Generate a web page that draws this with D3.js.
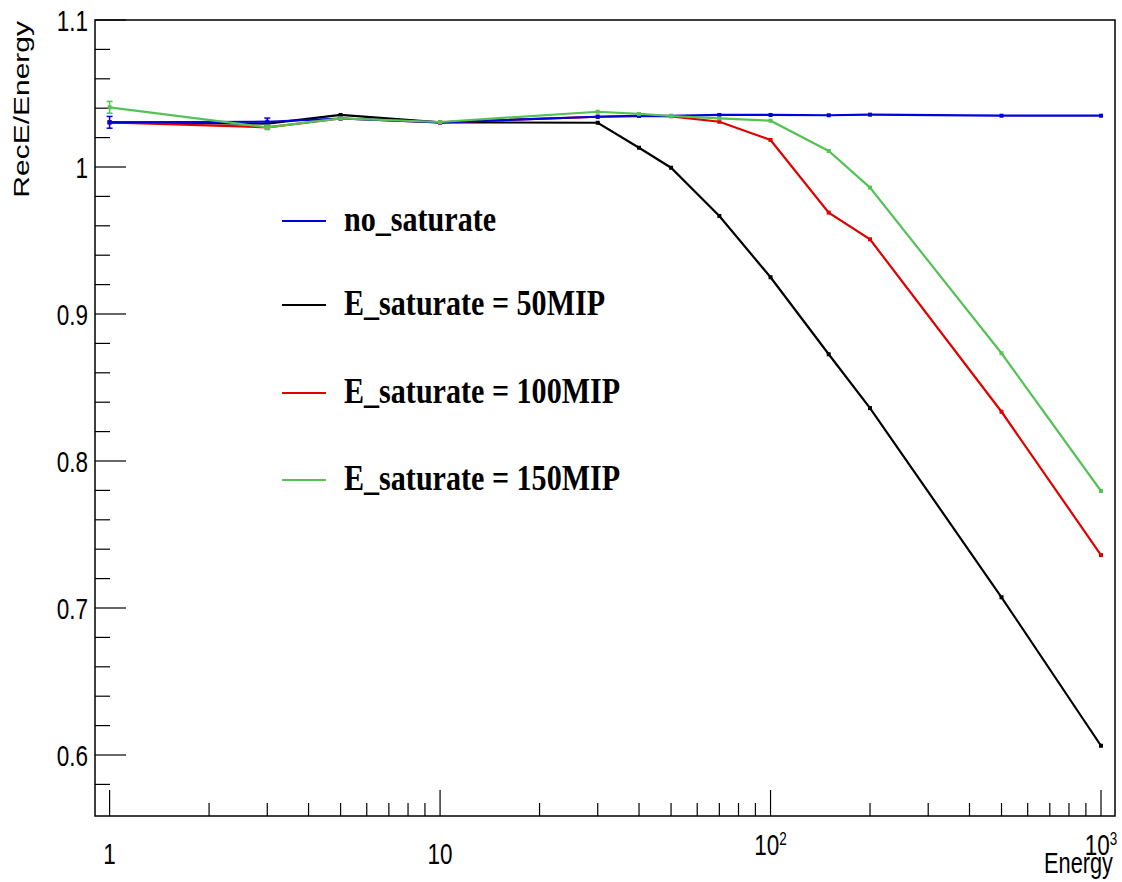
<!DOCTYPE html>
<html>
<head>
<meta charset="utf-8">
<script src="https://cdn.jsdelivr.net/npm/d3@7"></script>
<style>
  html, body { margin: 0; padding: 0; background: #fff; }
  svg { display: block; }
</style>
</head>
<body>
<svg id="chart" width="1122" height="882"></svg>
<script>
// ---- data ----
const energies = [1, 3, 5, 10, 30, 40, 50, 70, 100, 150, 200, 500, 1000];
const noSaturate = [1.0304, 1.0308, 1.0330, 1.0304, 1.0342, 1.0348, 1.0348, 1.0354, 1.0354, 1.0352, 1.0356, 1.0349, 1.0349];
const sat50MIP   = [1.0304, 1.0295, 1.0354, 1.0304, 1.0301, 1.0131, 0.9995, 0.9667, 0.9250, 0.8726, 0.8360, 0.7073, 0.6063];
const sat100MIP  = [1.0304, 1.0270, 1.0330, 1.0304, 1.0342, 1.0348, 1.0345, 1.0308, 1.0184, 0.9690, 0.9508, 0.8335, 0.7360];
const sat150MIP  = [1.0406, 1.0270, 1.0331, 1.0306, 1.0376, 1.0361, 1.0347, 1.0331, 1.0315, 1.0109, 0.9860, 0.8733, 0.7796];
const errNoSat   = [0.0040, 0.0025, 0.0010, 0.0008, 0.0010, 0.0005, 0.0005, 0.0008, 0.0008, 0.0005, 0.0005, 0.0005, 0.0005];
const err50      = [0.0010, 0.0010, 0.0010, 0.0005, 0.0005, 0.0005, 0.0005, 0.0005, 0.0005, 0.0005, 0.0005, 0.0005, 0.0005];
const err100     = [0.0010, 0.0010, 0.0005, 0.0005, 0.0005, 0.0005, 0.0005, 0.0005, 0.0005, 0.0005, 0.0005, 0.0005, 0.0005];
const err150     = [0.0040, 0.0015, 0.0010, 0.0005, 0.0008, 0.0005, 0.0005, 0.0005, 0.0005, 0.0005, 0.0005, 0.0005, 0.0005];
const seriesNames = ["no_saturate", "E_saturate = 50MIP", "E_saturate = 100MIP", "E_saturate = 150MIP"];
const seriesColors = ["#0000dd", "#000000", "#e00000", "#55c255"];
const yTickValues = [0.6, 0.7, 0.8, 0.9, 1.0, 1.1];
const yTickLabels = ["0.6", "0.7", "0.8", "0.9", "1", "1.1"];
const xMajorValues = [1, 10, 100, 1000];
const xMajorLabels = [["1", ""], ["10", ""], ["10", "2"], ["10", "3"]];
const xTitle = "Energy";
const yTitle = "RecE/Energy";

// ---- layout ----
const frame = { left: 95, top: 20, right: 1115, bottom: 816 };
const x = d3.scaleLog().domain([1, 1000]).range([109.6, 1101]);
const y = d3.scaleLinear().domain([0.6, 1.1]).range([755, 20]);
const svg = d3.select("#chart");
const SQ = 0.75; // horizontal squish of the reference glyphs
const sansFont = "'Liberation Sans', Arial, Helvetica, sans-serif";
const serifFont = "'Liberation Serif', 'Times New Roman', serif";

// frame
svg.append("rect")
  .attr("x", frame.left).attr("y", frame.top)
  .attr("width", frame.right - frame.left).attr("height", frame.bottom - frame.top)
  .attr("fill", "none").attr("stroke", "#000").attr("stroke-width", 1.5);

// y ticks (major + minor)
const yMinor = d3.range(0.58, 1.1001, 0.02).map(v => +v.toFixed(2));
svg.append("g").selectAll("line").data(yMinor).join("line")
  .attr("x1", frame.left).attr("x2", d => frame.left + (yTickValues.some(t => Math.abs(t - d) < 1e-6) ? 31 : 15))
  .attr("y1", d => y(d)).attr("y2", d => y(d))
  .attr("stroke", "#000").attr("stroke-width", 1.2);

svg.append("g").selectAll("text").data(yTickValues).join("text")
  .attr("transform", d => `translate(88,${y(d) + 11}) scale(${SQ},1)`)
  .attr("text-anchor", "end")
  .attr("font-family", sansFont).attr("font-size", 30)
  .attr("fill", "#000")
  .text((d, i) => yTickLabels[i]);

// x ticks (major + minor)
const xMinor = [];
[1, 10, 100].forEach(dec => { for (let k = 2; k <= 9; k++) xMinor.push(dec * k); });
svg.append("g").selectAll("line").data(xMinor).join("line")
  .attr("x1", d => x(d)).attr("x2", d => x(d))
  .attr("y1", frame.bottom).attr("y2", frame.bottom - 13)
  .attr("stroke", "#000").attr("stroke-width", 1.2);
svg.append("g").selectAll("line").data(xMajorValues).join("line")
  .attr("x1", d => x(d)).attr("x2", d => x(d))
  .attr("y1", frame.bottom).attr("y2", frame.bottom - 26)
  .attr("stroke", "#000").attr("stroke-width", 1.2);

const xl = svg.append("g").selectAll("text").data(xMajorValues).join("text")
  .attr("transform", (d, i) => `translate(${x(d)},${xMajorLabels[i][1] ? 855 : 864}) scale(${SQ},1)`)
  .attr("text-anchor", "middle")
  .attr("font-family", sansFont).attr("font-size", 30)
  .attr("fill", "#000");
xl.each(function(d, i) {
  const t = d3.select(this);
  t.append("tspan").text(xMajorLabels[i][0]);
  if (xMajorLabels[i][1]) {
    t.append("tspan").attr("dy", -10).attr("font-size", 18).text(xMajorLabels[i][1]);
  }
});

// axis titles
svg.append("text")
  .attr("transform", `translate(1113,873) scale(${SQ},1)`)
  .attr("text-anchor", "end")
  .attr("font-family", sansFont).attr("font-size", 29)
  .text(xTitle);
svg.append("text")
  .attr("transform", `translate(29,21) scale(${SQ},1) rotate(-90)`)
  .attr("text-anchor", "end")
  .attr("font-family", sansFont).attr("font-size", 30)
  .text(yTitle);

// ---- series ----
const allSeries = [
  { name: seriesNames[0], color: seriesColors[0], vals: noSaturate, err: errNoSat },
  { name: seriesNames[1], color: seriesColors[1], vals: sat50MIP, err: err50 },
  { name: seriesNames[2], color: seriesColors[2], vals: sat100MIP, err: err100 },
  { name: seriesNames[3], color: seriesColors[3], vals: sat150MIP, err: err150 }
];
const drawOrder = [1, 2, 0, 3];
const line = d3.line().x(d => x(d.e)).y(d => y(d.v));

drawOrder.forEach(si => {
  const s = allSeries[si];
  const pts = energies.map((e, i) => ({ e, v: s.vals[i], err: s.err[i] }));
  const g = svg.append("g");
  g.append("path").datum(pts)
    .attr("d", line).attr("fill", "none")
    .attr("stroke", s.color).attr("stroke-width", 2.2);
  // error bars
  g.selectAll("line.err").data(pts).join("line")
    .attr("x1", d => x(d.e)).attr("x2", d => x(d.e))
    .attr("y1", d => y(d.v - d.err)).attr("y2", d => y(d.v + d.err))
    .attr("stroke", s.color).attr("stroke-width", 1.5);
  g.selectAll("line.capt").data(pts.filter(d => y(d.v - d.err) - y(d.v + d.err) > 4)).join("line")
    .attr("x1", d => x(d.e) - 3).attr("x2", d => x(d.e) + 3)
    .attr("y1", d => y(d.v + d.err)).attr("y2", d => y(d.v + d.err))
    .attr("stroke", s.color).attr("stroke-width", 1.5);
  g.selectAll("line.capb").data(pts.filter(d => y(d.v - d.err) - y(d.v + d.err) > 4)).join("line")
    .attr("x1", d => x(d.e) - 3).attr("x2", d => x(d.e) + 3)
    .attr("y1", d => y(d.v - d.err)).attr("y2", d => y(d.v - d.err))
    .attr("stroke", s.color).attr("stroke-width", 1.5);
  // markers
  g.selectAll("rect").data(pts).join("rect")
    .attr("x", d => x(d.e) - 2).attr("y", d => y(d.v) - 2)
    .attr("width", 4).attr("height", 4)
    .attr("fill", s.color);
});

// ---- legend ----
const legendRowsY = [221, 305, 393, 480];
const lg = svg.append("g");
allSeries.forEach((s, i) => {
  lg.append("line")
    .attr("x1", 282).attr("x2", 326)
    .attr("y1", legendRowsY[i]).attr("y2", legendRowsY[i])
    .attr("stroke", s.color).attr("stroke-width", 2.2);
  lg.append("text")
    .attr("transform", `translate(344,${legendRowsY[i] + 10}) scale(0.86,1)`)
    .attr("font-family", serifFont).attr("font-weight", "bold").attr("font-size", 35)
    .attr("fill", "#000")
    .text(s.name);
});
</script>
</body>
</html>
